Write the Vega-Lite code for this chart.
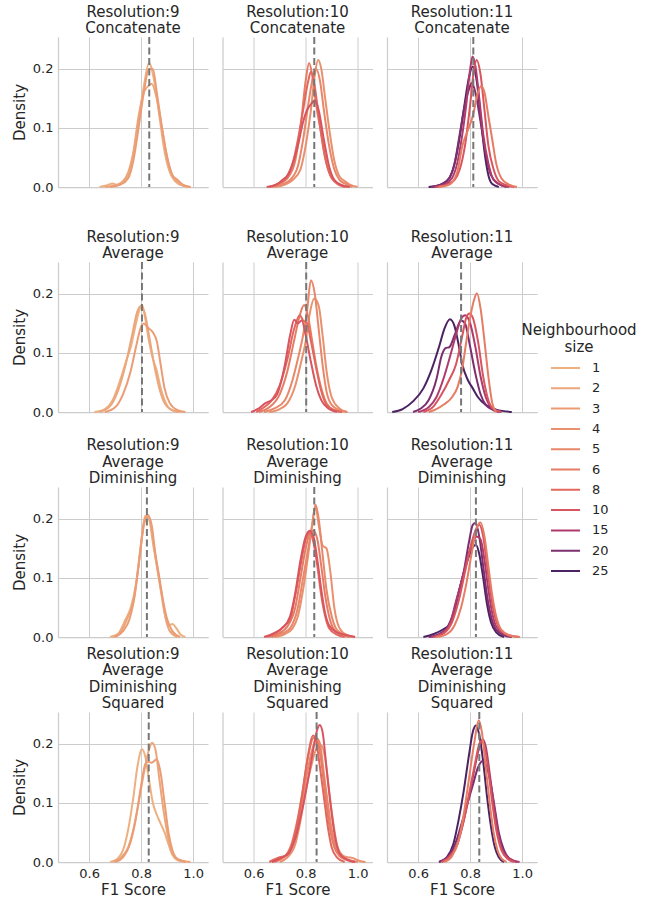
{
"$schema":"https://vega.github.io/schema/vega-lite/v6.json",
"padding":{"left":12,"top":4,"right":5,"bottom":38},
"background":"white",
"datasets":{
"means":[
{"m":"C","c":9,"v":0.831},{"m":"C","c":10,"v":0.833},{"m":"C","c":11,"v":0.812},
{"m":"A","c":9,"v":0.803},{"m":"A","c":10,"v":0.802},{"m":"A","c":11,"v":0.765},
{"m":"D","c":9,"v":0.822},{"m":"D","c":10,"v":0.833},{"m":"D","c":11,"v":0.822},
{"m":"S","c":9,"v":0.829},{"m":"S","c":10,"v":0.842},{"m":"S","c":11,"v":0.835}],
"kde":[
{"m":"C","c":9,"s":1,"x":0.64,"y":0},{"m":"C","c":9,"s":1,"x":0.67,"y":0.003},{"m":"C","c":9,"s":1,"x":0.69,"y":0.006},{"m":"C","c":9,"s":1,"x":0.71,"y":0.003},{"m":"C","c":9,"s":1,"x":0.73,"y":0.008},{"m":"C","c":9,"s":1,"x":0.75,"y":0.02},{"m":"C","c":9,"s":1,"x":0.77,"y":0.055},{"m":"C","c":9,"s":1,"x":0.79,"y":0.11},{"m":"C","c":9,"s":1,"x":0.81,"y":0.17},{"m":"C","c":9,"s":1,"x":0.83,"y":0.21},{"m":"C","c":9,"s":1,"x":0.85,"y":0.18},{"m":"C","c":9,"s":1,"x":0.87,"y":0.12},{"m":"C","c":9,"s":1,"x":0.89,"y":0.06},{"m":"C","c":9,"s":1,"x":0.91,"y":0.025},{"m":"C","c":9,"s":1,"x":0.93,"y":0.01},{"m":"C","c":9,"s":1,"x":0.96,"y":0.002},{"m":"C","c":9,"s":1,"x":0.99,"y":0},
{"m":"C","c":9,"s":2,"x":0.66,"y":0},{"m":"C","c":9,"s":2,"x":0.70,"y":0.003},{"m":"C","c":9,"s":2,"x":0.73,"y":0.01},{"m":"C","c":9,"s":2,"x":0.75,"y":0.025},{"m":"C","c":9,"s":2,"x":0.77,"y":0.06},{"m":"C","c":9,"s":2,"x":0.79,"y":0.12},{"m":"C","c":9,"s":2,"x":0.81,"y":0.16},{"m":"C","c":9,"s":2,"x":0.825,"y":0.17},{"m":"C","c":9,"s":2,"x":0.84,"y":0.175},{"m":"C","c":9,"s":2,"x":0.86,"y":0.15},{"m":"C","c":9,"s":2,"x":0.88,"y":0.1},{"m":"C","c":9,"s":2,"x":0.90,"y":0.05},{"m":"C","c":9,"s":2,"x":0.92,"y":0.02},{"m":"C","c":9,"s":2,"x":0.95,"y":0.005},{"m":"C","c":9,"s":2,"x":0.98,"y":0},
{"m":"C","c":9,"s":3,"x":0.68,"y":0},{"m":"C","c":9,"s":3,"x":0.72,"y":0.004},{"m":"C","c":9,"s":3,"x":0.75,"y":0.015},{"m":"C","c":9,"s":3,"x":0.77,"y":0.045},{"m":"C","c":9,"s":3,"x":0.79,"y":0.1},{"m":"C","c":9,"s":3,"x":0.81,"y":0.16},{"m":"C","c":9,"s":3,"x":0.83,"y":0.2},{"m":"C","c":9,"s":3,"x":0.845,"y":0.2},{"m":"C","c":9,"s":3,"x":0.86,"y":0.16},{"m":"C","c":9,"s":3,"x":0.88,"y":0.1},{"m":"C","c":9,"s":3,"x":0.90,"y":0.05},{"m":"C","c":9,"s":3,"x":0.92,"y":0.02},{"m":"C","c":9,"s":3,"x":0.94,"y":0.012},{"m":"C","c":9,"s":3,"x":0.96,"y":0.004},{"m":"C","c":9,"s":3,"x":0.99,"y":0},

{"m":"C","c":10,"s":4,"x":0.68,"y":0},{"m":"C","c":10,"s":4,"x":0.72,"y":0.004},{"m":"C","c":10,"s":4,"x":0.75,"y":0.012},{"m":"C","c":10,"s":4,"x":0.78,"y":0.03},{"m":"C","c":10,"s":4,"x":0.80,"y":0.07},{"m":"C","c":10,"s":4,"x":0.82,"y":0.13},{"m":"C","c":10,"s":4,"x":0.835,"y":0.19},{"m":"C","c":10,"s":4,"x":0.848,"y":0.215},{"m":"C","c":10,"s":4,"x":0.86,"y":0.2},{"m":"C","c":10,"s":4,"x":0.875,"y":0.15},{"m":"C","c":10,"s":4,"x":0.89,"y":0.1},{"m":"C","c":10,"s":4,"x":0.91,"y":0.045},{"m":"C","c":10,"s":4,"x":0.93,"y":0.018},{"m":"C","c":10,"s":4,"x":0.95,"y":0.01},{"m":"C","c":10,"s":4,"x":0.97,"y":0.004},{"m":"C","c":10,"s":4,"x":1.0,"y":0},
{"m":"C","c":10,"s":5,"x":0.67,"y":0},{"m":"C","c":10,"s":5,"x":0.71,"y":0.005},{"m":"C","c":10,"s":5,"x":0.74,"y":0.012},{"m":"C","c":10,"s":5,"x":0.77,"y":0.035},{"m":"C","c":10,"s":5,"x":0.79,"y":0.08},{"m":"C","c":10,"s":5,"x":0.81,"y":0.14},{"m":"C","c":10,"s":5,"x":0.83,"y":0.19},{"m":"C","c":10,"s":5,"x":0.84,"y":0.2},{"m":"C","c":10,"s":5,"x":0.855,"y":0.18},{"m":"C","c":10,"s":5,"x":0.87,"y":0.13},{"m":"C","c":10,"s":5,"x":0.89,"y":0.07},{"m":"C","c":10,"s":5,"x":0.91,"y":0.03},{"m":"C","c":10,"s":5,"x":0.93,"y":0.012},{"m":"C","c":10,"s":5,"x":0.95,"y":0.006},{"m":"C","c":10,"s":5,"x":0.98,"y":0},
{"m":"C","c":10,"s":6,"x":0.66,"y":0},{"m":"C","c":10,"s":6,"x":0.70,"y":0.006},{"m":"C","c":10,"s":6,"x":0.73,"y":0.015},{"m":"C","c":10,"s":6,"x":0.76,"y":0.045},{"m":"C","c":10,"s":6,"x":0.78,"y":0.1},{"m":"C","c":10,"s":6,"x":0.80,"y":0.18},{"m":"C","c":10,"s":6,"x":0.813,"y":0.21},{"m":"C","c":10,"s":6,"x":0.825,"y":0.19},{"m":"C","c":10,"s":6,"x":0.84,"y":0.14},{"m":"C","c":10,"s":6,"x":0.86,"y":0.09},{"m":"C","c":10,"s":6,"x":0.88,"y":0.04},{"m":"C","c":10,"s":6,"x":0.90,"y":0.015},{"m":"C","c":10,"s":6,"x":0.93,"y":0.004},{"m":"C","c":10,"s":6,"x":0.96,"y":0},
{"m":"C","c":10,"s":8,"x":0.66,"y":0},{"m":"C","c":10,"s":8,"x":0.70,"y":0.007},{"m":"C","c":10,"s":8,"x":0.72,"y":0.012},{"m":"C","c":10,"s":8,"x":0.75,"y":0.04},{"m":"C","c":10,"s":8,"x":0.77,"y":0.08},{"m":"C","c":10,"s":8,"x":0.79,"y":0.13},{"m":"C","c":10,"s":8,"x":0.81,"y":0.18},{"m":"C","c":10,"s":8,"x":0.82,"y":0.195},{"m":"C","c":10,"s":8,"x":0.835,"y":0.17},{"m":"C","c":10,"s":8,"x":0.85,"y":0.12},{"m":"C","c":10,"s":8,"x":0.87,"y":0.06},{"m":"C","c":10,"s":8,"x":0.89,"y":0.025},{"m":"C","c":10,"s":8,"x":0.92,"y":0.006},{"m":"C","c":10,"s":8,"x":0.95,"y":0},
{"m":"C","c":10,"s":10,"x":0.65,"y":0},{"m":"C","c":10,"s":10,"x":0.69,"y":0.005},{"m":"C","c":10,"s":10,"x":0.71,"y":0.012},{"m":"C","c":10,"s":10,"x":0.73,"y":0.02},{"m":"C","c":10,"s":10,"x":0.75,"y":0.04},{"m":"C","c":10,"s":10,"x":0.77,"y":0.07},{"m":"C","c":10,"s":10,"x":0.79,"y":0.11},{"m":"C","c":10,"s":10,"x":0.805,"y":0.13},{"m":"C","c":10,"s":10,"x":0.82,"y":0.14},{"m":"C","c":10,"s":10,"x":0.836,"y":0.147},{"m":"C","c":10,"s":10,"x":0.85,"y":0.13},{"m":"C","c":10,"s":10,"x":0.87,"y":0.08},{"m":"C","c":10,"s":10,"x":0.89,"y":0.035},{"m":"C","c":10,"s":10,"x":0.91,"y":0.012},{"m":"C","c":10,"s":10,"x":0.94,"y":0.003},{"m":"C","c":10,"s":10,"x":0.97,"y":0},

{"m":"C","c":11,"s":25,"x":0.64,"y":0},{"m":"C","c":11,"s":25,"x":0.68,"y":0.003},{"m":"C","c":11,"s":25,"x":0.71,"y":0.01},{"m":"C","c":11,"s":25,"x":0.73,"y":0.025},{"m":"C","c":11,"s":25,"x":0.75,"y":0.06},{"m":"C","c":11,"s":25,"x":0.765,"y":0.1},{"m":"C","c":11,"s":25,"x":0.78,"y":0.145},{"m":"C","c":11,"s":25,"x":0.795,"y":0.185},{"m":"C","c":11,"s":25,"x":0.81,"y":0.204},{"m":"C","c":11,"s":25,"x":0.825,"y":0.18},{"m":"C","c":11,"s":25,"x":0.84,"y":0.12},{"m":"C","c":11,"s":25,"x":0.855,"y":0.06},{"m":"C","c":11,"s":25,"x":0.87,"y":0.02},{"m":"C","c":11,"s":25,"x":0.885,"y":0.005},{"m":"C","c":11,"s":25,"x":0.91,"y":0},
{"m":"C","c":11,"s":20,"x":0.65,"y":0},{"m":"C","c":11,"s":20,"x":0.69,"y":0.005},{"m":"C","c":11,"s":20,"x":0.72,"y":0.015},{"m":"C","c":11,"s":20,"x":0.74,"y":0.04},{"m":"C","c":11,"s":20,"x":0.76,"y":0.09},{"m":"C","c":11,"s":20,"x":0.78,"y":0.14},{"m":"C","c":11,"s":20,"x":0.795,"y":0.165},{"m":"C","c":11,"s":20,"x":0.806,"y":0.176},{"m":"C","c":11,"s":20,"x":0.82,"y":0.16},{"m":"C","c":11,"s":20,"x":0.84,"y":0.11},{"m":"C","c":11,"s":20,"x":0.86,"y":0.055},{"m":"C","c":11,"s":20,"x":0.88,"y":0.02},{"m":"C","c":11,"s":20,"x":0.91,"y":0.005},{"m":"C","c":11,"s":20,"x":0.94,"y":0},
{"m":"C","c":11,"s":15,"x":0.66,"y":0},{"m":"C","c":11,"s":15,"x":0.70,"y":0.004},{"m":"C","c":11,"s":15,"x":0.73,"y":0.015},{"m":"C","c":11,"s":15,"x":0.75,"y":0.04},{"m":"C","c":11,"s":15,"x":0.77,"y":0.09},{"m":"C","c":11,"s":15,"x":0.785,"y":0.14},{"m":"C","c":11,"s":15,"x":0.80,"y":0.2},{"m":"C","c":11,"s":15,"x":0.809,"y":0.221},{"m":"C","c":11,"s":15,"x":0.82,"y":0.205},{"m":"C","c":11,"s":15,"x":0.835,"y":0.15},{"m":"C","c":11,"s":15,"x":0.85,"y":0.09},{"m":"C","c":11,"s":15,"x":0.87,"y":0.04},{"m":"C","c":11,"s":15,"x":0.89,"y":0.012},{"m":"C","c":11,"s":15,"x":0.92,"y":0.003},{"m":"C","c":11,"s":15,"x":0.95,"y":0},
{"m":"C","c":11,"s":10,"x":0.67,"y":0},{"m":"C","c":11,"s":10,"x":0.71,"y":0.004},{"m":"C","c":11,"s":10,"x":0.74,"y":0.012},{"m":"C","c":11,"s":10,"x":0.76,"y":0.03},{"m":"C","c":11,"s":10,"x":0.78,"y":0.07},{"m":"C","c":11,"s":10,"x":0.80,"y":0.14},{"m":"C","c":11,"s":10,"x":0.815,"y":0.2},{"m":"C","c":11,"s":10,"x":0.825,"y":0.215},{"m":"C","c":11,"s":10,"x":0.84,"y":0.19},{"m":"C","c":11,"s":10,"x":0.855,"y":0.13},{"m":"C","c":11,"s":10,"x":0.87,"y":0.07},{"m":"C","c":11,"s":10,"x":0.89,"y":0.03},{"m":"C","c":11,"s":10,"x":0.91,"y":0.01},{"m":"C","c":11,"s":10,"x":0.94,"y":0.003},{"m":"C","c":11,"s":10,"x":0.97,"y":0},
{"m":"C","c":11,"s":6,"x":0.68,"y":0},{"m":"C","c":11,"s":6,"x":0.72,"y":0.004},{"m":"C","c":11,"s":6,"x":0.75,"y":0.025},{"m":"C","c":11,"s":6,"x":0.77,"y":0.07},{"m":"C","c":11,"s":6,"x":0.79,"y":0.095},{"m":"C","c":11,"s":6,"x":0.81,"y":0.12},{"m":"C","c":11,"s":6,"x":0.83,"y":0.16},{"m":"C","c":11,"s":6,"x":0.842,"y":0.171},{"m":"C","c":11,"s":6,"x":0.855,"y":0.16},{"m":"C","c":11,"s":6,"x":0.87,"y":0.12},{"m":"C","c":11,"s":6,"x":0.885,"y":0.08},{"m":"C","c":11,"s":6,"x":0.90,"y":0.04},{"m":"C","c":11,"s":6,"x":0.92,"y":0.015},{"m":"C","c":11,"s":6,"x":0.95,"y":0.004},{"m":"C","c":11,"s":6,"x":0.98,"y":0},

{"m":"A","c":9,"s":1,"x":0.62,"y":0},{"m":"A","c":9,"s":1,"x":0.66,"y":0.005},{"m":"A","c":9,"s":1,"x":0.69,"y":0.02},{"m":"A","c":9,"s":1,"x":0.72,"y":0.055},{"m":"A","c":9,"s":1,"x":0.745,"y":0.09},{"m":"A","c":9,"s":1,"x":0.76,"y":0.11},{"m":"A","c":9,"s":1,"x":0.78,"y":0.15},{"m":"A","c":9,"s":1,"x":0.795,"y":0.175},{"m":"A","c":9,"s":1,"x":0.803,"y":0.181},{"m":"A","c":9,"s":1,"x":0.815,"y":0.16},{"m":"A","c":9,"s":1,"x":0.83,"y":0.12},{"m":"A","c":9,"s":1,"x":0.845,"y":0.09},{"m":"A","c":9,"s":1,"x":0.86,"y":0.07},{"m":"A","c":9,"s":1,"x":0.875,"y":0.04},{"m":"A","c":9,"s":1,"x":0.89,"y":0.02},{"m":"A","c":9,"s":1,"x":0.91,"y":0.005},{"m":"A","c":9,"s":1,"x":0.94,"y":0},
{"m":"A","c":9,"s":2,"x":0.64,"y":0},{"m":"A","c":9,"s":2,"x":0.68,"y":0.01},{"m":"A","c":9,"s":2,"x":0.71,"y":0.035},{"m":"A","c":9,"s":2,"x":0.74,"y":0.08},{"m":"A","c":9,"s":2,"x":0.765,"y":0.13},{"m":"A","c":9,"s":2,"x":0.785,"y":0.17},{"m":"A","c":9,"s":2,"x":0.80,"y":0.18},{"m":"A","c":9,"s":2,"x":0.815,"y":0.165},{"m":"A","c":9,"s":2,"x":0.83,"y":0.13},{"m":"A","c":9,"s":2,"x":0.85,"y":0.08},{"m":"A","c":9,"s":2,"x":0.87,"y":0.04},{"m":"A","c":9,"s":2,"x":0.89,"y":0.015},{"m":"A","c":9,"s":2,"x":0.92,"y":0.003},{"m":"A","c":9,"s":2,"x":0.95,"y":0},
{"m":"A","c":9,"s":3,"x":0.66,"y":0},{"m":"A","c":9,"s":3,"x":0.70,"y":0.008},{"m":"A","c":9,"s":3,"x":0.73,"y":0.03},{"m":"A","c":9,"s":3,"x":0.76,"y":0.07},{"m":"A","c":9,"s":3,"x":0.78,"y":0.11},{"m":"A","c":9,"s":3,"x":0.80,"y":0.145},{"m":"A","c":9,"s":3,"x":0.81,"y":0.15},{"m":"A","c":9,"s":3,"x":0.825,"y":0.143},{"m":"A","c":9,"s":3,"x":0.845,"y":0.135},{"m":"A","c":9,"s":3,"x":0.86,"y":0.12},{"m":"A","c":9,"s":3,"x":0.875,"y":0.08},{"m":"A","c":9,"s":3,"x":0.89,"y":0.04},{"m":"A","c":9,"s":3,"x":0.91,"y":0.015},{"m":"A","c":9,"s":3,"x":0.94,"y":0.003},{"m":"A","c":9,"s":3,"x":0.97,"y":0},

{"m":"A","c":10,"s":4,"x":0.66,"y":0},{"m":"A","c":10,"s":4,"x":0.70,"y":0.005},{"m":"A","c":10,"s":4,"x":0.73,"y":0.015},{"m":"A","c":10,"s":4,"x":0.76,"y":0.045},{"m":"A","c":10,"s":4,"x":0.78,"y":0.08},{"m":"A","c":10,"s":4,"x":0.80,"y":0.12},{"m":"A","c":10,"s":4,"x":0.815,"y":0.165},{"m":"A","c":10,"s":4,"x":0.833,"y":0.192},{"m":"A","c":10,"s":4,"x":0.85,"y":0.18},{"m":"A","c":10,"s":4,"x":0.865,"y":0.13},{"m":"A","c":10,"s":4,"x":0.88,"y":0.07},{"m":"A","c":10,"s":4,"x":0.90,"y":0.025},{"m":"A","c":10,"s":4,"x":0.93,"y":0.006},{"m":"A","c":10,"s":4,"x":0.96,"y":0},
{"m":"A","c":10,"s":5,"x":0.64,"y":0},{"m":"A","c":10,"s":5,"x":0.68,"y":0.006},{"m":"A","c":10,"s":5,"x":0.72,"y":0.02},{"m":"A","c":10,"s":5,"x":0.75,"y":0.055},{"m":"A","c":10,"s":5,"x":0.77,"y":0.09},{"m":"A","c":10,"s":5,"x":0.79,"y":0.13},{"m":"A","c":10,"s":5,"x":0.805,"y":0.17},{"m":"A","c":10,"s":5,"x":0.82,"y":0.223},{"m":"A","c":10,"s":5,"x":0.835,"y":0.2},{"m":"A","c":10,"s":5,"x":0.85,"y":0.14},{"m":"A","c":10,"s":5,"x":0.865,"y":0.08},{"m":"A","c":10,"s":5,"x":0.88,"y":0.035},{"m":"A","c":10,"s":5,"x":0.90,"y":0.012},{"m":"A","c":10,"s":5,"x":0.93,"y":0.003},{"m":"A","c":10,"s":5,"x":0.96,"y":0},
{"m":"A","c":10,"s":6,"x":0.62,"y":0},{"m":"A","c":10,"s":6,"x":0.66,"y":0.008},{"m":"A","c":10,"s":6,"x":0.70,"y":0.03},{"m":"A","c":10,"s":6,"x":0.73,"y":0.07},{"m":"A","c":10,"s":6,"x":0.755,"y":0.12},{"m":"A","c":10,"s":6,"x":0.775,"y":0.16},{"m":"A","c":10,"s":6,"x":0.794,"y":0.181},{"m":"A","c":10,"s":6,"x":0.81,"y":0.16},{"m":"A","c":10,"s":6,"x":0.825,"y":0.12},{"m":"A","c":10,"s":6,"x":0.84,"y":0.08},{"m":"A","c":10,"s":6,"x":0.86,"y":0.04},{"m":"A","c":10,"s":6,"x":0.88,"y":0.015},{"m":"A","c":10,"s":6,"x":0.91,"y":0.003},{"m":"A","c":10,"s":6,"x":0.94,"y":0},
{"m":"A","c":10,"s":8,"x":0.61,"y":0},{"m":"A","c":10,"s":8,"x":0.64,"y":0.008},{"m":"A","c":10,"s":8,"x":0.67,"y":0.02},{"m":"A","c":10,"s":8,"x":0.70,"y":0.045},{"m":"A","c":10,"s":8,"x":0.73,"y":0.09},{"m":"A","c":10,"s":8,"x":0.755,"y":0.14},{"m":"A","c":10,"s":8,"x":0.777,"y":0.164},{"m":"A","c":10,"s":8,"x":0.79,"y":0.155},{"m":"A","c":10,"s":8,"x":0.805,"y":0.15},{"m":"A","c":10,"s":8,"x":0.82,"y":0.12},{"m":"A","c":10,"s":8,"x":0.84,"y":0.075},{"m":"A","c":10,"s":8,"x":0.86,"y":0.035},{"m":"A","c":10,"s":8,"x":0.88,"y":0.012},{"m":"A","c":10,"s":8,"x":0.91,"y":0.003},{"m":"A","c":10,"s":8,"x":0.94,"y":0},
{"m":"A","c":10,"s":10,"x":0.59,"y":0},{"m":"A","c":10,"s":10,"x":0.62,"y":0.006},{"m":"A","c":10,"s":10,"x":0.645,"y":0.015},{"m":"A","c":10,"s":10,"x":0.668,"y":0.02},{"m":"A","c":10,"s":10,"x":0.69,"y":0.03},{"m":"A","c":10,"s":10,"x":0.72,"y":0.08},{"m":"A","c":10,"s":10,"x":0.74,"y":0.13},{"m":"A","c":10,"s":10,"x":0.756,"y":0.156},{"m":"A","c":10,"s":10,"x":0.77,"y":0.15},{"m":"A","c":10,"s":10,"x":0.785,"y":0.155},{"m":"A","c":10,"s":10,"x":0.80,"y":0.13},{"m":"A","c":10,"s":10,"x":0.82,"y":0.085},{"m":"A","c":10,"s":10,"x":0.84,"y":0.045},{"m":"A","c":10,"s":10,"x":0.86,"y":0.02},{"m":"A","c":10,"s":10,"x":0.89,"y":0.005},{"m":"A","c":10,"s":10,"x":0.92,"y":0},

{"m":"A","c":11,"s":25,"x":0.50,"y":0},{"m":"A","c":11,"s":25,"x":0.54,"y":0.005},{"m":"A","c":11,"s":25,"x":0.58,"y":0.018},{"m":"A","c":11,"s":25,"x":0.62,"y":0.04},{"m":"A","c":11,"s":25,"x":0.65,"y":0.07},{"m":"A","c":11,"s":25,"x":0.68,"y":0.11},{"m":"A","c":11,"s":25,"x":0.70,"y":0.14},{"m":"A","c":11,"s":25,"x":0.722,"y":0.157},{"m":"A","c":11,"s":25,"x":0.74,"y":0.145},{"m":"A","c":11,"s":25,"x":0.755,"y":0.115},{"m":"A","c":11,"s":25,"x":0.77,"y":0.08},{"m":"A","c":11,"s":25,"x":0.79,"y":0.055},{"m":"A","c":11,"s":25,"x":0.81,"y":0.04},{"m":"A","c":11,"s":25,"x":0.83,"y":0.025},{"m":"A","c":11,"s":25,"x":0.86,"y":0.012},{"m":"A","c":11,"s":25,"x":0.90,"y":0.004},{"m":"A","c":11,"s":25,"x":0.96,"y":0},
{"m":"A","c":11,"s":20,"x":0.58,"y":0},{"m":"A","c":11,"s":20,"x":0.61,"y":0.006},{"m":"A","c":11,"s":20,"x":0.64,"y":0.02},{"m":"A","c":11,"s":20,"x":0.67,"y":0.055},{"m":"A","c":11,"s":20,"x":0.69,"y":0.095},{"m":"A","c":11,"s":20,"x":0.705,"y":0.108},{"m":"A","c":11,"s":20,"x":0.72,"y":0.11},{"m":"A","c":11,"s":20,"x":0.74,"y":0.13},{"m":"A","c":11,"s":20,"x":0.765,"y":0.155},{"m":"A","c":11,"s":20,"x":0.78,"y":0.15},{"m":"A","c":11,"s":20,"x":0.80,"y":0.11},{"m":"A","c":11,"s":20,"x":0.82,"y":0.065},{"m":"A","c":11,"s":20,"x":0.84,"y":0.03},{"m":"A","c":11,"s":20,"x":0.86,"y":0.012},{"m":"A","c":11,"s":20,"x":0.89,"y":0.003},{"m":"A","c":11,"s":20,"x":0.92,"y":0},
{"m":"A","c":11,"s":15,"x":0.60,"y":0},{"m":"A","c":11,"s":15,"x":0.64,"y":0.008},{"m":"A","c":11,"s":15,"x":0.67,"y":0.025},{"m":"A","c":11,"s":15,"x":0.70,"y":0.06},{"m":"A","c":11,"s":15,"x":0.72,"y":0.09},{"m":"A","c":11,"s":15,"x":0.745,"y":0.13},{"m":"A","c":11,"s":15,"x":0.765,"y":0.158},{"m":"A","c":11,"s":15,"x":0.781,"y":0.164},{"m":"A","c":11,"s":15,"x":0.80,"y":0.15},{"m":"A","c":11,"s":15,"x":0.82,"y":0.11},{"m":"A","c":11,"s":15,"x":0.84,"y":0.06},{"m":"A","c":11,"s":15,"x":0.86,"y":0.025},{"m":"A","c":11,"s":15,"x":0.88,"y":0.008},{"m":"A","c":11,"s":15,"x":0.91,"y":0},
{"m":"A","c":11,"s":10,"x":0.62,"y":0},{"m":"A","c":11,"s":10,"x":0.66,"y":0.01},{"m":"A","c":11,"s":10,"x":0.69,"y":0.03},{"m":"A","c":11,"s":10,"x":0.72,"y":0.055},{"m":"A","c":11,"s":10,"x":0.745,"y":0.08},{"m":"A","c":11,"s":10,"x":0.77,"y":0.13},{"m":"A","c":11,"s":10,"x":0.785,"y":0.16},{"m":"A","c":11,"s":10,"x":0.797,"y":0.167},{"m":"A","c":11,"s":10,"x":0.81,"y":0.16},{"m":"A","c":11,"s":10,"x":0.83,"y":0.12},{"m":"A","c":11,"s":10,"x":0.85,"y":0.06},{"m":"A","c":11,"s":10,"x":0.87,"y":0.02},{"m":"A","c":11,"s":10,"x":0.89,"y":0.005},{"m":"A","c":11,"s":10,"x":0.92,"y":0},
{"m":"A","c":11,"s":6,"x":0.64,"y":0},{"m":"A","c":11,"s":6,"x":0.67,"y":0.005},{"m":"A","c":11,"s":6,"x":0.70,"y":0.013},{"m":"A","c":11,"s":6,"x":0.73,"y":0.025},{"m":"A","c":11,"s":6,"x":0.752,"y":0.043},{"m":"A","c":11,"s":6,"x":0.77,"y":0.075},{"m":"A","c":11,"s":6,"x":0.784,"y":0.116},{"m":"A","c":11,"s":6,"x":0.80,"y":0.16},{"m":"A","c":11,"s":6,"x":0.815,"y":0.19},{"m":"A","c":11,"s":6,"x":0.826,"y":0.201},{"m":"A","c":11,"s":6,"x":0.84,"y":0.175},{"m":"A","c":11,"s":6,"x":0.855,"y":0.12},{"m":"A","c":11,"s":6,"x":0.87,"y":0.06},{"m":"A","c":11,"s":6,"x":0.885,"y":0.015},{"m":"A","c":11,"s":6,"x":0.90,"y":0},

{"m":"D","c":9,"s":1,"x":0.68,"y":0},{"m":"D","c":9,"s":1,"x":0.71,"y":0.005},{"m":"D","c":9,"s":1,"x":0.74,"y":0.03},{"m":"D","c":9,"s":1,"x":0.76,"y":0.05},{"m":"D","c":9,"s":1,"x":0.78,"y":0.09},{"m":"D","c":9,"s":1,"x":0.80,"y":0.16},{"m":"D","c":9,"s":1,"x":0.815,"y":0.205},{"m":"D","c":9,"s":1,"x":0.83,"y":0.2},{"m":"D","c":9,"s":1,"x":0.845,"y":0.16},{"m":"D","c":9,"s":1,"x":0.86,"y":0.12},{"m":"D","c":9,"s":1,"x":0.875,"y":0.08},{"m":"D","c":9,"s":1,"x":0.89,"y":0.04},{"m":"D","c":9,"s":1,"x":0.905,"y":0.02},{"m":"D","c":9,"s":1,"x":0.92,"y":0.022},{"m":"D","c":9,"s":1,"x":0.935,"y":0.015},{"m":"D","c":9,"s":1,"x":0.95,"y":0.005},{"m":"D","c":9,"s":1,"x":0.97,"y":0},
{"m":"D","c":9,"s":2,"x":0.69,"y":0},{"m":"D","c":9,"s":2,"x":0.72,"y":0.008},{"m":"D","c":9,"s":2,"x":0.75,"y":0.035},{"m":"D","c":9,"s":2,"x":0.77,"y":0.06},{"m":"D","c":9,"s":2,"x":0.79,"y":0.12},{"m":"D","c":9,"s":2,"x":0.81,"y":0.19},{"m":"D","c":9,"s":2,"x":0.822,"y":0.205},{"m":"D","c":9,"s":2,"x":0.835,"y":0.195},{"m":"D","c":9,"s":2,"x":0.85,"y":0.15},{"m":"D","c":9,"s":2,"x":0.865,"y":0.11},{"m":"D","c":9,"s":2,"x":0.88,"y":0.07},{"m":"D","c":9,"s":2,"x":0.895,"y":0.03},{"m":"D","c":9,"s":2,"x":0.91,"y":0.01},{"m":"D","c":9,"s":2,"x":0.94,"y":0},
{"m":"D","c":9,"s":3,"x":0.70,"y":0},{"m":"D","c":9,"s":3,"x":0.73,"y":0.01},{"m":"D","c":9,"s":3,"x":0.755,"y":0.03},{"m":"D","c":9,"s":3,"x":0.775,"y":0.07},{"m":"D","c":9,"s":3,"x":0.795,"y":0.14},{"m":"D","c":9,"s":3,"x":0.81,"y":0.19},{"m":"D","c":9,"s":3,"x":0.825,"y":0.207},{"m":"D","c":9,"s":3,"x":0.84,"y":0.19},{"m":"D","c":9,"s":3,"x":0.855,"y":0.14},{"m":"D","c":9,"s":3,"x":0.87,"y":0.1},{"m":"D","c":9,"s":3,"x":0.885,"y":0.06},{"m":"D","c":9,"s":3,"x":0.90,"y":0.03},{"m":"D","c":9,"s":3,"x":0.92,"y":0.01},{"m":"D","c":9,"s":3,"x":0.95,"y":0},

{"m":"D","c":10,"s":4,"x":0.68,"y":0},{"m":"D","c":10,"s":4,"x":0.72,"y":0.005},{"m":"D","c":10,"s":4,"x":0.75,"y":0.015},{"m":"D","c":10,"s":4,"x":0.77,"y":0.035},{"m":"D","c":10,"s":4,"x":0.79,"y":0.08},{"m":"D","c":10,"s":4,"x":0.81,"y":0.14},{"m":"D","c":10,"s":4,"x":0.825,"y":0.19},{"m":"D","c":10,"s":4,"x":0.838,"y":0.222},{"m":"D","c":10,"s":4,"x":0.85,"y":0.19},{"m":"D","c":10,"s":4,"x":0.865,"y":0.155},{"m":"D","c":10,"s":4,"x":0.88,"y":0.15},{"m":"D","c":10,"s":4,"x":0.895,"y":0.11},{"m":"D","c":10,"s":4,"x":0.91,"y":0.05},{"m":"D","c":10,"s":4,"x":0.93,"y":0.015},{"m":"D","c":10,"s":4,"x":0.96,"y":0.003},{"m":"D","c":10,"s":4,"x":0.99,"y":0},
{"m":"D","c":10,"s":5,"x":0.67,"y":0},{"m":"D","c":10,"s":5,"x":0.71,"y":0.006},{"m":"D","c":10,"s":5,"x":0.74,"y":0.015},{"m":"D","c":10,"s":5,"x":0.77,"y":0.05},{"m":"D","c":10,"s":5,"x":0.79,"y":0.1},{"m":"D","c":10,"s":5,"x":0.81,"y":0.15},{"m":"D","c":10,"s":5,"x":0.825,"y":0.19},{"m":"D","c":10,"s":5,"x":0.838,"y":0.224},{"m":"D","c":10,"s":5,"x":0.85,"y":0.2},{"m":"D","c":10,"s":5,"x":0.865,"y":0.14},{"m":"D","c":10,"s":5,"x":0.88,"y":0.08},{"m":"D","c":10,"s":5,"x":0.90,"y":0.035},{"m":"D","c":10,"s":5,"x":0.92,"y":0.012},{"m":"D","c":10,"s":5,"x":0.95,"y":0.004},{"m":"D","c":10,"s":5,"x":0.98,"y":0},
{"m":"D","c":10,"s":6,"x":0.66,"y":0},{"m":"D","c":10,"s":6,"x":0.70,"y":0.007},{"m":"D","c":10,"s":6,"x":0.73,"y":0.018},{"m":"D","c":10,"s":6,"x":0.76,"y":0.05},{"m":"D","c":10,"s":6,"x":0.78,"y":0.1},{"m":"D","c":10,"s":6,"x":0.80,"y":0.15},{"m":"D","c":10,"s":6,"x":0.815,"y":0.175},{"m":"D","c":10,"s":6,"x":0.83,"y":0.18},{"m":"D","c":10,"s":6,"x":0.845,"y":0.165},{"m":"D","c":10,"s":6,"x":0.86,"y":0.12},{"m":"D","c":10,"s":6,"x":0.875,"y":0.07},{"m":"D","c":10,"s":6,"x":0.89,"y":0.035},{"m":"D","c":10,"s":6,"x":0.91,"y":0.012},{"m":"D","c":10,"s":6,"x":0.94,"y":0.003},{"m":"D","c":10,"s":6,"x":0.97,"y":0},
{"m":"D","c":10,"s":8,"x":0.65,"y":0},{"m":"D","c":10,"s":8,"x":0.69,"y":0.008},{"m":"D","c":10,"s":8,"x":0.713,"y":0.017},{"m":"D","c":10,"s":8,"x":0.74,"y":0.03},{"m":"D","c":10,"s":8,"x":0.76,"y":0.07},{"m":"D","c":10,"s":8,"x":0.78,"y":0.12},{"m":"D","c":10,"s":8,"x":0.80,"y":0.165},{"m":"D","c":10,"s":8,"x":0.816,"y":0.178},{"m":"D","c":10,"s":8,"x":0.83,"y":0.16},{"m":"D","c":10,"s":8,"x":0.845,"y":0.12},{"m":"D","c":10,"s":8,"x":0.86,"y":0.07},{"m":"D","c":10,"s":8,"x":0.875,"y":0.035},{"m":"D","c":10,"s":8,"x":0.89,"y":0.015},{"m":"D","c":10,"s":8,"x":0.92,"y":0.004},{"m":"D","c":10,"s":8,"x":0.95,"y":0},
{"m":"D","c":10,"s":10,"x":0.64,"y":0},{"m":"D","c":10,"s":10,"x":0.68,"y":0.007},{"m":"D","c":10,"s":10,"x":0.71,"y":0.015},{"m":"D","c":10,"s":10,"x":0.74,"y":0.035},{"m":"D","c":10,"s":10,"x":0.76,"y":0.075},{"m":"D","c":10,"s":10,"x":0.78,"y":0.13},{"m":"D","c":10,"s":10,"x":0.80,"y":0.17},{"m":"D","c":10,"s":10,"x":0.815,"y":0.18},{"m":"D","c":10,"s":10,"x":0.83,"y":0.17},{"m":"D","c":10,"s":10,"x":0.845,"y":0.13},{"m":"D","c":10,"s":10,"x":0.86,"y":0.08},{"m":"D","c":10,"s":10,"x":0.875,"y":0.04},{"m":"D","c":10,"s":10,"x":0.89,"y":0.02},{"m":"D","c":10,"s":10,"x":0.92,"y":0.008},{"m":"D","c":10,"s":10,"x":0.95,"y":0.004},{"m":"D","c":10,"s":10,"x":0.99,"y":0},

{"m":"D","c":11,"s":25,"x":0.62,"y":0},{"m":"D","c":11,"s":25,"x":0.66,"y":0.005},{"m":"D","c":11,"s":25,"x":0.70,"y":0.014},{"m":"D","c":11,"s":25,"x":0.72,"y":0.02},{"m":"D","c":11,"s":25,"x":0.745,"y":0.055},{"m":"D","c":11,"s":25,"x":0.77,"y":0.1},{"m":"D","c":11,"s":25,"x":0.79,"y":0.13},{"m":"D","c":11,"s":25,"x":0.81,"y":0.152},{"m":"D","c":11,"s":25,"x":0.822,"y":0.156},{"m":"D","c":11,"s":25,"x":0.835,"y":0.14},{"m":"D","c":11,"s":25,"x":0.85,"y":0.1},{"m":"D","c":11,"s":25,"x":0.865,"y":0.055},{"m":"D","c":11,"s":25,"x":0.88,"y":0.025},{"m":"D","c":11,"s":25,"x":0.90,"y":0.008},{"m":"D","c":11,"s":25,"x":0.93,"y":0},
{"m":"D","c":11,"s":20,"x":0.64,"y":0},{"m":"D","c":11,"s":20,"x":0.68,"y":0.005},{"m":"D","c":11,"s":20,"x":0.71,"y":0.015},{"m":"D","c":11,"s":20,"x":0.735,"y":0.04},{"m":"D","c":11,"s":20,"x":0.755,"y":0.075},{"m":"D","c":11,"s":20,"x":0.775,"y":0.11},{"m":"D","c":11,"s":20,"x":0.795,"y":0.16},{"m":"D","c":11,"s":20,"x":0.81,"y":0.19},{"m":"D","c":11,"s":20,"x":0.82,"y":0.193},{"m":"D","c":11,"s":20,"x":0.835,"y":0.17},{"m":"D","c":11,"s":20,"x":0.85,"y":0.12},{"m":"D","c":11,"s":20,"x":0.865,"y":0.07},{"m":"D","c":11,"s":20,"x":0.88,"y":0.035},{"m":"D","c":11,"s":20,"x":0.90,"y":0.012},{"m":"D","c":11,"s":20,"x":0.93,"y":0.003},{"m":"D","c":11,"s":20,"x":0.96,"y":0},
{"m":"D","c":11,"s":15,"x":0.65,"y":0},{"m":"D","c":11,"s":15,"x":0.69,"y":0.006},{"m":"D","c":11,"s":15,"x":0.72,"y":0.02},{"m":"D","c":11,"s":15,"x":0.745,"y":0.06},{"m":"D","c":11,"s":15,"x":0.77,"y":0.1},{"m":"D","c":11,"s":15,"x":0.79,"y":0.135},{"m":"D","c":11,"s":15,"x":0.81,"y":0.16},{"m":"D","c":11,"s":15,"x":0.825,"y":0.17},{"m":"D","c":11,"s":15,"x":0.84,"y":0.165},{"m":"D","c":11,"s":15,"x":0.855,"y":0.13},{"m":"D","c":11,"s":15,"x":0.87,"y":0.08},{"m":"D","c":11,"s":15,"x":0.885,"y":0.04},{"m":"D","c":11,"s":15,"x":0.90,"y":0.018},{"m":"D","c":11,"s":15,"x":0.93,"y":0.005},{"m":"D","c":11,"s":15,"x":0.96,"y":0},
{"m":"D","c":11,"s":10,"x":0.66,"y":0},{"m":"D","c":11,"s":10,"x":0.70,"y":0.007},{"m":"D","c":11,"s":10,"x":0.73,"y":0.025},{"m":"D","c":11,"s":10,"x":0.755,"y":0.06},{"m":"D","c":11,"s":10,"x":0.78,"y":0.11},{"m":"D","c":11,"s":10,"x":0.80,"y":0.15},{"m":"D","c":11,"s":10,"x":0.82,"y":0.18},{"m":"D","c":11,"s":10,"x":0.835,"y":0.19},{"m":"D","c":11,"s":10,"x":0.85,"y":0.17},{"m":"D","c":11,"s":10,"x":0.865,"y":0.12},{"m":"D","c":11,"s":10,"x":0.88,"y":0.07},{"m":"D","c":11,"s":10,"x":0.895,"y":0.035},{"m":"D","c":11,"s":10,"x":0.92,"y":0.01},{"m":"D","c":11,"s":10,"x":0.95,"y":0.003},{"m":"D","c":11,"s":10,"x":0.99,"y":0},
{"m":"D","c":11,"s":6,"x":0.67,"y":0},{"m":"D","c":11,"s":6,"x":0.71,"y":0.005},{"m":"D","c":11,"s":6,"x":0.74,"y":0.02},{"m":"D","c":11,"s":6,"x":0.765,"y":0.05},{"m":"D","c":11,"s":6,"x":0.785,"y":0.09},{"m":"D","c":11,"s":6,"x":0.805,"y":0.14},{"m":"D","c":11,"s":6,"x":0.825,"y":0.185},{"m":"D","c":11,"s":6,"x":0.84,"y":0.194},{"m":"D","c":11,"s":6,"x":0.855,"y":0.17},{"m":"D","c":11,"s":6,"x":0.87,"y":0.12},{"m":"D","c":11,"s":6,"x":0.885,"y":0.07},{"m":"D","c":11,"s":6,"x":0.90,"y":0.035},{"m":"D","c":11,"s":6,"x":0.92,"y":0.012},{"m":"D","c":11,"s":6,"x":0.95,"y":0.003},{"m":"D","c":11,"s":6,"x":0.99,"y":0},

{"m":"S","c":9,"s":1,"x":0.68,"y":0},{"m":"S","c":9,"s":1,"x":0.71,"y":0.006},{"m":"S","c":9,"s":1,"x":0.73,"y":0.02},{"m":"S","c":9,"s":1,"x":0.75,"y":0.055},{"m":"S","c":9,"s":1,"x":0.77,"y":0.11},{"m":"S","c":9,"s":1,"x":0.785,"y":0.16},{"m":"S","c":9,"s":1,"x":0.803,"y":0.191},{"m":"S","c":9,"s":1,"x":0.815,"y":0.18},{"m":"S","c":9,"s":1,"x":0.83,"y":0.14},{"m":"S","c":9,"s":1,"x":0.845,"y":0.1},{"m":"S","c":9,"s":1,"x":0.86,"y":0.08},{"m":"S","c":9,"s":1,"x":0.875,"y":0.065},{"m":"S","c":9,"s":1,"x":0.89,"y":0.05},{"m":"S","c":9,"s":1,"x":0.905,"y":0.03},{"m":"S","c":9,"s":1,"x":0.92,"y":0.012},{"m":"S","c":9,"s":1,"x":0.94,"y":0.003},{"m":"S","c":9,"s":1,"x":0.97,"y":0},
{"m":"S","c":9,"s":2,"x":0.69,"y":0},{"m":"S","c":9,"s":2,"x":0.72,"y":0.007},{"m":"S","c":9,"s":2,"x":0.75,"y":0.025},{"m":"S","c":9,"s":2,"x":0.77,"y":0.055},{"m":"S","c":9,"s":2,"x":0.79,"y":0.1},{"m":"S","c":9,"s":2,"x":0.81,"y":0.15},{"m":"S","c":9,"s":2,"x":0.83,"y":0.19},{"m":"S","c":9,"s":2,"x":0.842,"y":0.202},{"m":"S","c":9,"s":2,"x":0.855,"y":0.19},{"m":"S","c":9,"s":2,"x":0.87,"y":0.14},{"m":"S","c":9,"s":2,"x":0.885,"y":0.09},{"m":"S","c":9,"s":2,"x":0.90,"y":0.05},{"m":"S","c":9,"s":2,"x":0.915,"y":0.02},{"m":"S","c":9,"s":2,"x":0.93,"y":0.008},{"m":"S","c":9,"s":2,"x":0.96,"y":0.002},{"m":"S","c":9,"s":2,"x":0.99,"y":0},
{"m":"S","c":9,"s":3,"x":0.70,"y":0},{"m":"S","c":9,"s":3,"x":0.73,"y":0.008},{"m":"S","c":9,"s":3,"x":0.76,"y":0.035},{"m":"S","c":9,"s":3,"x":0.78,"y":0.075},{"m":"S","c":9,"s":3,"x":0.80,"y":0.13},{"m":"S","c":9,"s":3,"x":0.815,"y":0.165},{"m":"S","c":9,"s":3,"x":0.825,"y":0.17},{"m":"S","c":9,"s":3,"x":0.84,"y":0.168},{"m":"S","c":9,"s":3,"x":0.86,"y":0.174},{"m":"S","c":9,"s":3,"x":0.875,"y":0.15},{"m":"S","c":9,"s":3,"x":0.89,"y":0.1},{"m":"S","c":9,"s":3,"x":0.905,"y":0.05},{"m":"S","c":9,"s":3,"x":0.92,"y":0.02},{"m":"S","c":9,"s":3,"x":0.94,"y":0.005},{"m":"S","c":9,"s":3,"x":0.97,"y":0},

{"m":"S","c":10,"s":4,"x":0.70,"y":0},{"m":"S","c":10,"s":4,"x":0.73,"y":0.008},{"m":"S","c":10,"s":4,"x":0.76,"y":0.03},{"m":"S","c":10,"s":4,"x":0.78,"y":0.07},{"m":"S","c":10,"s":4,"x":0.80,"y":0.12},{"m":"S","c":10,"s":4,"x":0.82,"y":0.16},{"m":"S","c":10,"s":4,"x":0.84,"y":0.19},{"m":"S","c":10,"s":4,"x":0.861,"y":0.197},{"m":"S","c":10,"s":4,"x":0.875,"y":0.175},{"m":"S","c":10,"s":4,"x":0.89,"y":0.12},{"m":"S","c":10,"s":4,"x":0.905,"y":0.07},{"m":"S","c":10,"s":4,"x":0.92,"y":0.03},{"m":"S","c":10,"s":4,"x":0.94,"y":0.012},{"m":"S","c":10,"s":4,"x":0.96,"y":0.008},{"m":"S","c":10,"s":4,"x":0.98,"y":0.007},{"m":"S","c":10,"s":4,"x":1.0,"y":0.003},{"m":"S","c":10,"s":4,"x":1.03,"y":0},
{"m":"S","c":10,"s":5,"x":0.68,"y":0},{"m":"S","c":10,"s":5,"x":0.71,"y":0.006},{"m":"S","c":10,"s":5,"x":0.74,"y":0.02},{"m":"S","c":10,"s":5,"x":0.765,"y":0.055},{"m":"S","c":10,"s":5,"x":0.785,"y":0.1},{"m":"S","c":10,"s":5,"x":0.805,"y":0.15},{"m":"S","c":10,"s":5,"x":0.825,"y":0.19},{"m":"S","c":10,"s":5,"x":0.842,"y":0.21},{"m":"S","c":10,"s":5,"x":0.855,"y":0.2},{"m":"S","c":10,"s":5,"x":0.87,"y":0.15},{"m":"S","c":10,"s":5,"x":0.885,"y":0.1},{"m":"S","c":10,"s":5,"x":0.90,"y":0.055},{"m":"S","c":10,"s":5,"x":0.92,"y":0.02},{"m":"S","c":10,"s":5,"x":0.94,"y":0.008},{"m":"S","c":10,"s":5,"x":0.97,"y":0.003},{"m":"S","c":10,"s":5,"x":1.0,"y":0},
{"m":"S","c":10,"s":6,"x":0.67,"y":0},{"m":"S","c":10,"s":6,"x":0.70,"y":0.006},{"m":"S","c":10,"s":6,"x":0.72,"y":0.01},{"m":"S","c":10,"s":6,"x":0.745,"y":0.03},{"m":"S","c":10,"s":6,"x":0.77,"y":0.075},{"m":"S","c":10,"s":6,"x":0.79,"y":0.125},{"m":"S","c":10,"s":6,"x":0.81,"y":0.18},{"m":"S","c":10,"s":6,"x":0.83,"y":0.21},{"m":"S","c":10,"s":6,"x":0.845,"y":0.205},{"m":"S","c":10,"s":6,"x":0.86,"y":0.17},{"m":"S","c":10,"s":6,"x":0.875,"y":0.115},{"m":"S","c":10,"s":6,"x":0.89,"y":0.065},{"m":"S","c":10,"s":6,"x":0.91,"y":0.025},{"m":"S","c":10,"s":6,"x":0.93,"y":0.01},{"m":"S","c":10,"s":6,"x":0.96,"y":0.003},{"m":"S","c":10,"s":6,"x":0.99,"y":0},
{"m":"S","c":10,"s":8,"x":0.66,"y":0},{"m":"S","c":10,"s":8,"x":0.70,"y":0.008},{"m":"S","c":10,"s":8,"x":0.72,"y":0.01},{"m":"S","c":10,"s":8,"x":0.74,"y":0.02},{"m":"S","c":10,"s":8,"x":0.765,"y":0.06},{"m":"S","c":10,"s":8,"x":0.785,"y":0.11},{"m":"S","c":10,"s":8,"x":0.805,"y":0.17},{"m":"S","c":10,"s":8,"x":0.829,"y":0.214},{"m":"S","c":10,"s":8,"x":0.84,"y":0.205},{"m":"S","c":10,"s":8,"x":0.855,"y":0.16},{"m":"S","c":10,"s":8,"x":0.87,"y":0.11},{"m":"S","c":10,"s":8,"x":0.885,"y":0.06},{"m":"S","c":10,"s":8,"x":0.90,"y":0.025},{"m":"S","c":10,"s":8,"x":0.92,"y":0.008},{"m":"S","c":10,"s":8,"x":0.95,"y":0},
{"m":"S","c":10,"s":10,"x":0.67,"y":0},{"m":"S","c":10,"s":10,"x":0.71,"y":0.008},{"m":"S","c":10,"s":10,"x":0.735,"y":0.015},{"m":"S","c":10,"s":10,"x":0.76,"y":0.04},{"m":"S","c":10,"s":10,"x":0.785,"y":0.085},{"m":"S","c":10,"s":10,"x":0.805,"y":0.13},{"m":"S","c":10,"s":10,"x":0.825,"y":0.18},{"m":"S","c":10,"s":10,"x":0.845,"y":0.225},{"m":"S","c":10,"s":10,"x":0.854,"y":0.232},{"m":"S","c":10,"s":10,"x":0.865,"y":0.22},{"m":"S","c":10,"s":10,"x":0.88,"y":0.16},{"m":"S","c":10,"s":10,"x":0.895,"y":0.1},{"m":"S","c":10,"s":10,"x":0.91,"y":0.05},{"m":"S","c":10,"s":10,"x":0.93,"y":0.015},{"m":"S","c":10,"s":10,"x":0.96,"y":0.004},{"m":"S","c":10,"s":10,"x":0.99,"y":0},

{"m":"S","c":11,"s":25,"x":0.68,"y":0},{"m":"S","c":11,"s":25,"x":0.71,"y":0.008},{"m":"S","c":11,"s":25,"x":0.735,"y":0.03},{"m":"S","c":11,"s":25,"x":0.755,"y":0.07},{"m":"S","c":11,"s":25,"x":0.775,"y":0.12},{"m":"S","c":11,"s":25,"x":0.795,"y":0.18},{"m":"S","c":11,"s":25,"x":0.81,"y":0.22},{"m":"S","c":11,"s":25,"x":0.822,"y":0.231},{"m":"S","c":11,"s":25,"x":0.835,"y":0.215},{"m":"S","c":11,"s":25,"x":0.85,"y":0.17},{"m":"S","c":11,"s":25,"x":0.865,"y":0.11},{"m":"S","c":11,"s":25,"x":0.88,"y":0.06},{"m":"S","c":11,"s":25,"x":0.895,"y":0.025},{"m":"S","c":11,"s":25,"x":0.91,"y":0.008},{"m":"S","c":11,"s":25,"x":0.93,"y":0},
{"m":"S","c":11,"s":20,"x":0.68,"y":0},{"m":"S","c":11,"s":20,"x":0.72,"y":0.012},{"m":"S","c":11,"s":20,"x":0.75,"y":0.04},{"m":"S","c":11,"s":20,"x":0.77,"y":0.07},{"m":"S","c":11,"s":20,"x":0.79,"y":0.1},{"m":"S","c":11,"s":20,"x":0.81,"y":0.13},{"m":"S","c":11,"s":20,"x":0.83,"y":0.16},{"m":"S","c":11,"s":20,"x":0.848,"y":0.171},{"m":"S","c":11,"s":20,"x":0.865,"y":0.16},{"m":"S","c":11,"s":20,"x":0.88,"y":0.13},{"m":"S","c":11,"s":20,"x":0.895,"y":0.09},{"m":"S","c":11,"s":20,"x":0.91,"y":0.05},{"m":"S","c":11,"s":20,"x":0.93,"y":0.02},{"m":"S","c":11,"s":20,"x":0.95,"y":0.006},{"m":"S","c":11,"s":20,"x":0.98,"y":0},
{"m":"S","c":11,"s":15,"x":0.69,"y":0},{"m":"S","c":11,"s":15,"x":0.72,"y":0.01},{"m":"S","c":11,"s":15,"x":0.75,"y":0.03},{"m":"S","c":11,"s":15,"x":0.775,"y":0.07},{"m":"S","c":11,"s":15,"x":0.80,"y":0.12},{"m":"S","c":11,"s":15,"x":0.82,"y":0.165},{"m":"S","c":11,"s":15,"x":0.835,"y":0.195},{"m":"S","c":11,"s":15,"x":0.848,"y":0.208},{"m":"S","c":11,"s":15,"x":0.86,"y":0.195},{"m":"S","c":11,"s":15,"x":0.875,"y":0.15},{"m":"S","c":11,"s":15,"x":0.89,"y":0.1},{"m":"S","c":11,"s":15,"x":0.905,"y":0.055},{"m":"S","c":11,"s":15,"x":0.92,"y":0.025},{"m":"S","c":11,"s":15,"x":0.945,"y":0.008},{"m":"S","c":11,"s":15,"x":0.97,"y":0.002},{"m":"S","c":11,"s":15,"x":0.99,"y":0},
{"m":"S","c":11,"s":10,"x":0.69,"y":0},{"m":"S","c":11,"s":10,"x":0.72,"y":0.008},{"m":"S","c":11,"s":10,"x":0.75,"y":0.03},{"m":"S","c":11,"s":10,"x":0.775,"y":0.07},{"m":"S","c":11,"s":10,"x":0.80,"y":0.125},{"m":"S","c":11,"s":10,"x":0.82,"y":0.17},{"m":"S","c":11,"s":10,"x":0.835,"y":0.2},{"m":"S","c":11,"s":10,"x":0.843,"y":0.205},{"m":"S","c":11,"s":10,"x":0.855,"y":0.195},{"m":"S","c":11,"s":10,"x":0.87,"y":0.155},{"m":"S","c":11,"s":10,"x":0.885,"y":0.1},{"m":"S","c":11,"s":10,"x":0.90,"y":0.055},{"m":"S","c":11,"s":10,"x":0.92,"y":0.02},{"m":"S","c":11,"s":10,"x":0.945,"y":0.005},{"m":"S","c":11,"s":10,"x":0.97,"y":0},
{"m":"S","c":11,"s":6,"x":0.70,"y":0},{"m":"S","c":11,"s":6,"x":0.73,"y":0.01},{"m":"S","c":11,"s":6,"x":0.755,"y":0.035},{"m":"S","c":11,"s":6,"x":0.775,"y":0.08},{"m":"S","c":11,"s":6,"x":0.795,"y":0.14},{"m":"S","c":11,"s":6,"x":0.815,"y":0.2},{"m":"S","c":11,"s":6,"x":0.833,"y":0.24},{"m":"S","c":11,"s":6,"x":0.845,"y":0.22},{"m":"S","c":11,"s":6,"x":0.86,"y":0.16},{"m":"S","c":11,"s":6,"x":0.875,"y":0.1},{"m":"S","c":11,"s":6,"x":0.89,"y":0.05},{"m":"S","c":11,"s":6,"x":0.905,"y":0.02},{"m":"S","c":11,"s":6,"x":0.92,"y":0.006},{"m":"S","c":11,"s":6,"x":0.94,"y":0}
]},
"vconcat":[
{"hconcat":[
{"width":150,"height":150,"title":{"text":["Resolution:9","Concatenate"],"offset":0},"layer":[
{"data":{"name":"kde"},"transform":[{"filter":"datum.m=='C'&&datum.c==9"}],"mark":{"type":"line","strokeWidth":2,"interpolate":"monotone"},"encoding":{"x":{"field":"x","type":"quantitative","scale":{"domain":[0.48,1.057],"nice":false,"zero":false},"axis":{"values":[0.6,0.8,1.0],"labels":false,"title":null}},"y":{"field":"y","type":"quantitative","scale":{"domain":[0,0.254],"nice":false},"axis":{"values":[0,0.1,0.2],"format":".1f","title":"Density","labelFontSize":13,"labelFont":"DejaVu Sans"}},"color":{"field":"s","type":"ordinal","scale":{"domain":[1,2,3,4,5,6,8,10,15,20,25],"range":["#edb081","#eca67b","#eb9c74","#e9916e","#e88769","#e67c64","#e2675c","#d8555f","#ae3b6c","#7c2f6f","#4b2362"]},"legend":{"orient":"none","legendX":463,"legendY":286,"title":["Neighbourhood","size"],"labelFontSize":13,"labelFont":"DejaVu Sans","clipHeight":16,"rowPadding":4.3,"symbolOffset":0}}}},
{"data":{"name":"means"},"transform":[{"filter":"datum.m=='C'&&datum.c==9"}],"mark":{"type":"rule","color":"#777777","strokeWidth":2,"strokeDash":[7,3.5]},"encoding":{"x":{"field":"v","type":"quantitative","axis":{"values":[0.6,0.8,1.0],"labels":false,"title":null}}}}]},
{"width":150,"height":150,"title":{"text":["Resolution:10","Concatenate"],"offset":0},"layer":[
{"data":{"name":"kde"},"transform":[{"filter":"datum.m=='C'&&datum.c==10"}],"mark":{"type":"line","strokeWidth":2,"interpolate":"monotone"},"encoding":{"x":{"field":"x","type":"quantitative","scale":{"domain":[0.48,1.057],"nice":false,"zero":false},"axis":{"values":[0.6,0.8,1.0],"labels":false,"title":null}},"y":{"field":"y","type":"quantitative","scale":{"domain":[0,0.254],"nice":false},"axis":{"values":[0,0.1,0.2],"labels":false,"title":null}},"color":{"field":"s","type":"ordinal","scale":{"domain":[1,2,3,4,5,6,8,10,15,20,25]}}}},
{"data":{"name":"means"},"transform":[{"filter":"datum.m=='C'&&datum.c==10"}],"mark":{"type":"rule","color":"#777777","strokeWidth":2,"strokeDash":[7,3.5]},"encoding":{"x":{"field":"v","type":"quantitative","axis":{"values":[0.6,0.8,1.0],"labels":false,"title":null}}}}]},
{"width":150,"height":150,"title":{"text":["Resolution:11","Concatenate"],"offset":0},"layer":[
{"data":{"name":"kde"},"transform":[{"filter":"datum.m=='C'&&datum.c==11"}],"mark":{"type":"line","strokeWidth":2,"interpolate":"monotone"},"encoding":{"x":{"field":"x","type":"quantitative","scale":{"domain":[0.48,1.057],"nice":false,"zero":false},"axis":{"values":[0.6,0.8,1.0],"labels":false,"title":null}},"y":{"field":"y","type":"quantitative","scale":{"domain":[0,0.254],"nice":false},"axis":{"values":[0,0.1,0.2],"labels":false,"title":null}},"color":{"field":"s","type":"ordinal","scale":{"domain":[1,2,3,4,5,6,8,10,15,20,25]}}}},
{"data":{"name":"means"},"transform":[{"filter":"datum.m=='C'&&datum.c==11"}],"mark":{"type":"rule","color":"#777777","strokeWidth":2,"strokeDash":[7,3.5]},"encoding":{"x":{"field":"v","type":"quantitative","axis":{"values":[0.6,0.8,1.0],"labels":false,"title":null}}}}]}
],"spacing":14.5},
{"hconcat":[
{"width":150,"height":150,"title":{"text":["Resolution:9","Average"],"offset":0},"layer":[
{"data":{"name":"kde"},"transform":[{"filter":"datum.m=='A'&&datum.c==9"}],"mark":{"type":"line","strokeWidth":2,"interpolate":"monotone"},"encoding":{"x":{"field":"x","type":"quantitative","scale":{"domain":[0.48,1.057],"nice":false,"zero":false},"axis":{"values":[0.6,0.8,1.0],"labels":false,"title":null}},"y":{"field":"y","type":"quantitative","scale":{"domain":[0,0.254],"nice":false},"axis":{"values":[0,0.1,0.2],"format":".1f","title":"Density","labelFontSize":13,"labelFont":"DejaVu Sans"}},"color":{"field":"s","type":"ordinal","scale":{"domain":[1,2,3,4,5,6,8,10,15,20,25]}}}},
{"data":{"name":"means"},"transform":[{"filter":"datum.m=='A'&&datum.c==9"}],"mark":{"type":"rule","color":"#777777","strokeWidth":2,"strokeDash":[7,3.5]},"encoding":{"x":{"field":"v","type":"quantitative","axis":{"values":[0.6,0.8,1.0],"labels":false,"title":null}}}}]},
{"width":150,"height":150,"title":{"text":["Resolution:10","Average"],"offset":0},"layer":[
{"data":{"name":"kde"},"transform":[{"filter":"datum.m=='A'&&datum.c==10"}],"mark":{"type":"line","strokeWidth":2,"interpolate":"monotone"},"encoding":{"x":{"field":"x","type":"quantitative","scale":{"domain":[0.48,1.057],"nice":false,"zero":false},"axis":{"values":[0.6,0.8,1.0],"labels":false,"title":null}},"y":{"field":"y","type":"quantitative","scale":{"domain":[0,0.254],"nice":false},"axis":{"values":[0,0.1,0.2],"labels":false,"title":null}},"color":{"field":"s","type":"ordinal","scale":{"domain":[1,2,3,4,5,6,8,10,15,20,25]}}}},
{"data":{"name":"means"},"transform":[{"filter":"datum.m=='A'&&datum.c==10"}],"mark":{"type":"rule","color":"#777777","strokeWidth":2,"strokeDash":[7,3.5]},"encoding":{"x":{"field":"v","type":"quantitative","axis":{"values":[0.6,0.8,1.0],"labels":false,"title":null}}}}]},
{"width":150,"height":150,"title":{"text":["Resolution:11","Average"],"offset":0},"layer":[
{"data":{"name":"kde"},"transform":[{"filter":"datum.m=='A'&&datum.c==11"}],"mark":{"type":"line","strokeWidth":2,"interpolate":"monotone"},"encoding":{"x":{"field":"x","type":"quantitative","scale":{"domain":[0.48,1.057],"nice":false,"zero":false},"axis":{"values":[0.6,0.8,1.0],"labels":false,"title":null}},"y":{"field":"y","type":"quantitative","scale":{"domain":[0,0.254],"nice":false},"axis":{"values":[0,0.1,0.2],"labels":false,"title":null}},"color":{"field":"s","type":"ordinal","scale":{"domain":[1,2,3,4,5,6,8,10,15,20,25]}}}},
{"data":{"name":"means"},"transform":[{"filter":"datum.m=='A'&&datum.c==11"}],"mark":{"type":"rule","color":"#777777","strokeWidth":2,"strokeDash":[7,3.5]},"encoding":{"x":{"field":"v","type":"quantitative","axis":{"values":[0.6,0.8,1.0],"labels":false,"title":null}}}}]}
],"spacing":14.5},
{"hconcat":[
{"width":150,"height":150,"title":{"text":["Resolution:9","Average","Diminishing"],"offset":0},"layer":[
{"data":{"name":"kde"},"transform":[{"filter":"datum.m=='D'&&datum.c==9"}],"mark":{"type":"line","strokeWidth":2,"interpolate":"monotone"},"encoding":{"x":{"field":"x","type":"quantitative","scale":{"domain":[0.48,1.057],"nice":false,"zero":false},"axis":{"values":[0.6,0.8,1.0],"labels":false,"title":null}},"y":{"field":"y","type":"quantitative","scale":{"domain":[0,0.254],"nice":false},"axis":{"values":[0,0.1,0.2],"format":".1f","title":"Density","labelFontSize":13,"labelFont":"DejaVu Sans"}},"color":{"field":"s","type":"ordinal","scale":{"domain":[1,2,3,4,5,6,8,10,15,20,25]}}}},
{"data":{"name":"means"},"transform":[{"filter":"datum.m=='D'&&datum.c==9"}],"mark":{"type":"rule","color":"#777777","strokeWidth":2,"strokeDash":[7,3.5]},"encoding":{"x":{"field":"v","type":"quantitative","axis":{"values":[0.6,0.8,1.0],"labels":false,"title":null}}}}]},
{"width":150,"height":150,"title":{"text":["Resolution:10","Average","Diminishing"],"offset":0},"layer":[
{"data":{"name":"kde"},"transform":[{"filter":"datum.m=='D'&&datum.c==10"}],"mark":{"type":"line","strokeWidth":2,"interpolate":"monotone"},"encoding":{"x":{"field":"x","type":"quantitative","scale":{"domain":[0.48,1.057],"nice":false,"zero":false},"axis":{"values":[0.6,0.8,1.0],"labels":false,"title":null}},"y":{"field":"y","type":"quantitative","scale":{"domain":[0,0.254],"nice":false},"axis":{"values":[0,0.1,0.2],"labels":false,"title":null}},"color":{"field":"s","type":"ordinal","scale":{"domain":[1,2,3,4,5,6,8,10,15,20,25]}}}},
{"data":{"name":"means"},"transform":[{"filter":"datum.m=='D'&&datum.c==10"}],"mark":{"type":"rule","color":"#777777","strokeWidth":2,"strokeDash":[7,3.5]},"encoding":{"x":{"field":"v","type":"quantitative","axis":{"values":[0.6,0.8,1.0],"labels":false,"title":null}}}}]},
{"width":150,"height":150,"title":{"text":["Resolution:11","Average","Diminishing"],"offset":0},"layer":[
{"data":{"name":"kde"},"transform":[{"filter":"datum.m=='D'&&datum.c==11"}],"mark":{"type":"line","strokeWidth":2,"interpolate":"monotone"},"encoding":{"x":{"field":"x","type":"quantitative","scale":{"domain":[0.48,1.057],"nice":false,"zero":false},"axis":{"values":[0.6,0.8,1.0],"labels":false,"title":null}},"y":{"field":"y","type":"quantitative","scale":{"domain":[0,0.254],"nice":false},"axis":{"values":[0,0.1,0.2],"labels":false,"title":null}},"color":{"field":"s","type":"ordinal","scale":{"domain":[1,2,3,4,5,6,8,10,15,20,25]}}}},
{"data":{"name":"means"},"transform":[{"filter":"datum.m=='D'&&datum.c==11"}],"mark":{"type":"rule","color":"#777777","strokeWidth":2,"strokeDash":[7,3.5]},"encoding":{"x":{"field":"v","type":"quantitative","axis":{"values":[0.6,0.8,1.0],"labels":false,"title":null}}}}]}
],"spacing":14.5},
{"hconcat":[
{"width":150,"height":150,"title":{"text":["Resolution:9","Average","Diminishing","Squared"],"offset":0},"layer":[
{"data":{"name":"kde"},"transform":[{"filter":"datum.m=='S'&&datum.c==9"}],"mark":{"type":"line","strokeWidth":2,"interpolate":"monotone"},"encoding":{"x":{"field":"x","type":"quantitative","scale":{"domain":[0.48,1.057],"nice":false,"zero":false},"axis":{"values":[0.6,0.8,1.0],"format":".1f","title":"F1 Score","labels":true,"labelFontSize":13,"labelFont":"DejaVu Sans","titlePadding":2}},"y":{"field":"y","type":"quantitative","scale":{"domain":[0,0.254],"nice":false},"axis":{"values":[0,0.1,0.2],"format":".1f","title":"Density","labelFontSize":13,"labelFont":"DejaVu Sans"}},"color":{"field":"s","type":"ordinal","scale":{"domain":[1,2,3,4,5,6,8,10,15,20,25]}}}},
{"data":{"name":"means"},"transform":[{"filter":"datum.m=='S'&&datum.c==9"}],"mark":{"type":"rule","color":"#777777","strokeWidth":2,"strokeDash":[7,3.5]},"encoding":{"x":{"field":"v","type":"quantitative","axis":{"values":[0.6,0.8,1.0],"format":".1f","title":"F1 Score","labels":true,"labelFontSize":13,"labelFont":"DejaVu Sans","titlePadding":2}}}}]},
{"width":150,"height":150,"title":{"text":["Resolution:10","Average","Diminishing","Squared"],"offset":0},"layer":[
{"data":{"name":"kde"},"transform":[{"filter":"datum.m=='S'&&datum.c==10"}],"mark":{"type":"line","strokeWidth":2,"interpolate":"monotone"},"encoding":{"x":{"field":"x","type":"quantitative","scale":{"domain":[0.48,1.057],"nice":false,"zero":false},"axis":{"values":[0.6,0.8,1.0],"format":".1f","title":"F1 Score","labels":true,"labelFontSize":13,"labelFont":"DejaVu Sans","titlePadding":2}},"y":{"field":"y","type":"quantitative","scale":{"domain":[0,0.254],"nice":false},"axis":{"values":[0,0.1,0.2],"labels":false,"title":null}},"color":{"field":"s","type":"ordinal","scale":{"domain":[1,2,3,4,5,6,8,10,15,20,25]}}}},
{"data":{"name":"means"},"transform":[{"filter":"datum.m=='S'&&datum.c==10"}],"mark":{"type":"rule","color":"#777777","strokeWidth":2,"strokeDash":[7,3.5]},"encoding":{"x":{"field":"v","type":"quantitative","axis":{"values":[0.6,0.8,1.0],"format":".1f","title":"F1 Score","labels":true,"labelFontSize":13,"labelFont":"DejaVu Sans","titlePadding":2}}}}]},
{"width":150,"height":150,"title":{"text":["Resolution:11","Average","Diminishing","Squared"],"offset":0},"layer":[
{"data":{"name":"kde"},"transform":[{"filter":"datum.m=='S'&&datum.c==11"}],"mark":{"type":"line","strokeWidth":2,"interpolate":"monotone"},"encoding":{"x":{"field":"x","type":"quantitative","scale":{"domain":[0.48,1.057],"nice":false,"zero":false},"axis":{"values":[0.6,0.8,1.0],"format":".1f","title":"F1 Score","labels":true,"labelFontSize":13,"labelFont":"DejaVu Sans","titlePadding":2}},"y":{"field":"y","type":"quantitative","scale":{"domain":[0,0.254],"nice":false},"axis":{"values":[0,0.1,0.2],"labels":false,"title":null}},"color":{"field":"s","type":"ordinal","scale":{"domain":[1,2,3,4,5,6,8,10,15,20,25]}}}},
{"data":{"name":"means"},"transform":[{"filter":"datum.m=='S'&&datum.c==11"}],"mark":{"type":"rule","color":"#777777","strokeWidth":2,"strokeDash":[7,3.5]},"encoding":{"x":{"field":"v","type":"quantitative","axis":{"values":[0.6,0.8,1.0],"format":".1f","title":"F1 Score","labels":true,"labelFontSize":13,"labelFont":"DejaVu Sans","titlePadding":2}}}}]}
],"spacing":14.5}
],
"spacing":225,
"bounds":"flush",
"resolve":{"scale":{"color":"shared"},"legend":{"color":"shared"}},
"config":{
"font":"DejaVu Sans",
"view":{"stroke":null},
"style":{"guide-label":{"fontSize":13,"font":"DejaVu Sans","fill":"#262626"}},
"title":{"fontSize":15,"fontWeight":"normal","color":"#262626","anchor":"middle","frame":"group","baseline":"alphabetic","lineHeight":16.5},
"axis":{"gridColor":"#cccccc","gridWidth":1,"domainColor":"#cccccc","domainWidth":1.25,"ticks":false,"labelFontSize":13,"labelFont":"DejaVu Sans","labelColor":"#262626","titleFontSize":15,"titleFontWeight":"normal","titleColor":"#262626","labelPadding":5,"titlePadding":5},
"legend":{"titleFontSize":15,"titleFontWeight":"normal","titleColor":"#262626","titleAnchor":"middle","titleAlign":"center","titleLineHeight":17,"labelFontSize":13,"labelFont":"DejaVu Sans","labelColor":"#262626","symbolType":"stroke","symbolStrokeWidth":2,"symbolSize":841,"labelOffset":11}
}
}
